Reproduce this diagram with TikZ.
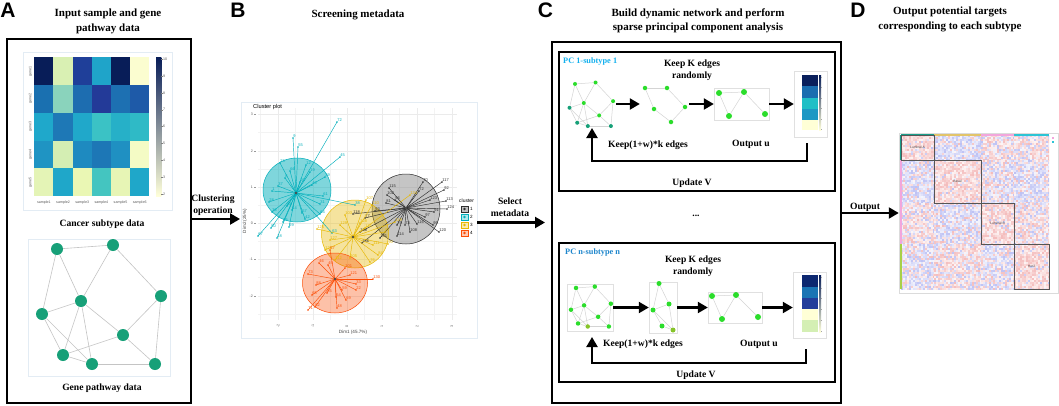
\documentclass[tikz,border=0pt]{standalone}
\usepackage{fontspec}
\setmainfont{Liberation Serif}
\setsansfont{Liberation Sans}
\usetikzlibrary{arrows.meta,calc}
\definecolor{nteal}{HTML}{17A078}
\definecolor{nbright}{HTML}{2BDD2B}
\definecolor{nyg}{HTML}{86C42A}
\definecolor{egray}{HTML}{C4C4C4}
\definecolor{elight}{HTML}{D4D4D4}
\definecolor{framebl}{HTML}{E3ECF4}
\definecolor{pcone}{HTML}{12B0EE}
\definecolor{pcn}{HTML}{1E86CC}
\definecolor{kcyan}{HTML}{00AFBB}
\definecolor{kyel}{HTML}{E7B800}
\definecolor{kora}{HTML}{FC4E07}
\definecolor{kgray}{HTML}{2E2E2E}
\definecolor{kgrayfill}{HTML}{8C8C8C}
\definecolor{ynavy}{HTML}{081D58}
\definecolor{ycyan}{HTML}{41B6C4}
\definecolor{ypale}{HTML}{FFFFD9}
\definecolor{mred}{HTML}{E04848}
\definecolor{mblue}{HTML}{4A55E0}
\definecolor{blkbox}{HTML}{555555}
\definecolor{gridc}{HTML}{EBEBEB}
\definecolor{stY}{HTML}{E2C46A}
\definecolor{stP}{HTML}{F2A6DC}
\definecolor{stC}{HTML}{2CC4D4}
\definecolor{stT}{HTML}{1A9E8A}
\definecolor{stG}{HTML}{A8D048}
\begin{document}
\begin{tikzpicture}[x=1pt,y=-1pt,
 title/.style={font=\fontsize{11}{14.5}\selectfont\bfseries, align=center, inner sep=0},
 sub/.style={font=\fontsize{9.6}{12}\selectfont\bfseries, align=center, inner sep=0},
 pclab/.style={font=\fontsize{8.3}{10}\selectfont\bfseries, inner sep=0, anchor=west},
 letter/.style={font=\fontsize{21}{21}\selectfont\sffamily\bfseries, inner sep=0},
 tiny/.style={font=\fontsize{3.6}{4}\selectfont\sffamily, inner sep=0, text=black!65},
 lab/.style={font=\fontsize{4}{4.5}\selectfont\sffamily, inner sep=0.2pt},
 bigbox/.style={draw, line width=2pt, inner sep=0},
 bigarrow/.style={line width=2.2pt, -{Triangle[length=10pt,width=11pt]}},
 nA/.style={circle, fill=nteal, inner sep=0, minimum size=12pt},
 nd/.style={circle, inner sep=0, minimum size=#1},
 edgeA/.style={draw=egray, line width=0.6pt},
 edgeC/.style={draw=elight, line width=0.5pt},
 netbox/.style={inner sep=0, draw=#1, line width=0.4pt},
 hbframe/.style={draw=black!12, line width=0.4pt, inner sep=0},
 mblock/.style={draw=blkbox, line width=0.8pt, inner sep=0, font=\fontsize{3.3}{4}\selectfont\sffamily, text=black!70}
]
\useasboundingbox (0,0) rectangle (1059,405);
\fill[white] (0,0) rectangle (1059,405);

% ---------------- letters and titles
\node[letter] (LA) at (8,10) {A};
\node[letter] (LB) at (238,10) {B};
\node[letter] (LC) at (545.5,10) {C};
\node[letter] (LD) at (858,10) {D};
\node[title] (tA) at (108,21.5) {Input sample and gene\\pathway data};
\node[title] (tB) at (358,15) {Screening metadata};
\node[title] (tC) at (698,21) {Build dynamic network and perform\\sparse principal component analysis};
\node[title] (tD) at (950,19.5) {Output potential targets\\corresponding to each subtype};

% ---------------- Panel A
\node[bigbox, minimum width=184, minimum height=364] (boxA) at (99,221) {};
\draw[framebl, line width=0.6pt] (23,52) rectangle (172,210);
\foreach \c [count=\k from 0] in {081D58,D9F0B3,1F3F99,1FA4C9,081D58,FBFDD0,
 1A70B0,8AD3BC,1D6DB0,233A98,1D70B2,1E5AA8,
 1FA8CB,1E78B6,20A8CA,3BC2C5,26B0C8,2FBAC6,
 1F94C3,D4EEB3,1E8AC0,1D77B6,1F90C2,F4FBC5,
 E4F4B6,1FA7C9,EAF7B4,44C5C0,E7F5B5,1FA7C9}{
  \definecolor{tmpc}{HTML}{\c}
  \pgfmathtruncatemacro\cc{mod(\k,6)}
  \pgfmathtruncatemacro\rr{int(\k/6)}
  \fill[tmpc] (34.3+19.17*\cc,57.3+27.75*\rr) rectangle ++(19.3,27.9);
}
\shade[top color=ynavy, middle color=ycyan, bottom color=ypale] (156,57.3) rectangle (161.3,196);
\foreach \v [count=\k from 0] in {10,9,8,7,6,5,4,3,2}{
  \draw[black!50, line width=0.3pt] (161.3,59+16.9*\k) -- (162.5,59+16.9*\k);
  \node[tiny, anchor=west] at (163,59+16.9*\k) {\v};
}
\foreach \k in {1,...,5}{\node[tiny, rotate=90] at (30.5,43.4+27.75*\k) {gene\k};}
\foreach \k in {1,...,6}{\node[tiny] at (34.3+19.17*\k-9.6,202.5) {sample\k};}
\node[sub] (cst) at (102,224) {Cancer subtype data};

\draw[framebl, line width=0.6pt] (28,239) rectangle (170,376);
\begin{scope}[shift={(28,239)}]
\node[nA] (a1) at (29,10) {};
\node[nA] (a2) at (85,6) {};
\node[nA] (a3) at (133,57) {};
\node[nA] (a4) at (53,62) {};
\node[nA] (a5) at (14,75) {};
\node[nA] (a6) at (95,96) {};
\node[nA] (a7) at (35,116) {};
\node[nA] (a8) at (64,125) {};
\node[nA] (a9) at (127,125) {};
\end{scope}
\foreach \u/\v in {1/2,1/4,1/5,2/4,2/3,3/6,3/9,4/5,4/6,4/7,4/8,5/7,5/8,6/7,6/9,7/8,8/9}
  \draw[edgeA] (a\u) -- (a\v);
\node[sub] (gpd) at (102,388) {Gene pathway data};

% arrow A -> B
\coordinate (bin) at (240,219);
\draw[bigarrow] (boxA.east |- bin) -- (bin);
\node[sub] (clu) at (213,205) {Clustering\\operation};

% ---------------- Panel B: cluster plot
\node[draw=framebl, line width=0.6pt, minimum width=236, minimum height=236, inner sep=0] (bplot) at (359,220) {};
\foreach \x in {260.5,295.5,330,364.5,399.5,434.5}{\draw[gridc!60, line width=0.3pt] (\x,108) -- (\x,320);}
\foreach \y in {132.5,169,205,241,277.5,314}{\draw[gridc!60, line width=0.3pt] (258,\y) -- (457,\y);}
\foreach \x in {278,313,347,382,417,452}{\draw[gridc, line width=0.5pt] (\x,108) -- (\x,320);}
\foreach \y in {114,151,187,223,259,296}{\draw[gridc, line width=0.5pt] (258,\y) -- (457,\y);}
\foreach \y/\l in {114/3,151/2,187/1,223/0,259/-1,296/-2}{
  \node[tiny, anchor=east] at (253,\y) {\l};
  \draw[black!40, line width=0.3pt] (254,\y) -- (256,\y);}
\foreach \x/\l in {278/-2,313/-1,347/0,382/1,417/2,452/3}{
  \node[tiny, rotate=90] at (\x,326) {\l};}
\node[font=\fontsize{5.7}{6}\selectfont\sffamily, anchor=west, inner sep=0] (cpt) at (253,107) {Cluster plot};
\node[font=\fontsize{4.6}{5}\selectfont\sffamily, inner sep=0, text=black!75] (xlab) at (353,332.5) {Dim1 (45.7\%)};
\node[font=\fontsize{4.6}{5}\selectfont\sffamily, inner sep=0, text=black!75, rotate=90] (ylab) at (245,221) {Dim2 (25\%)};

\fill[kcyan, opacity=0.5] (297,190) ellipse (34 and 32);
\draw[kcyan, line width=0.5pt] (297,190) ellipse (34 and 32);
\fill[kgrayfill, opacity=0.5] (406,209) ellipse (34 and 35);
\draw[kgray, line width=0.5pt] (406,209) ellipse (34 and 35);
\fill[kyel, opacity=0.38] (355,234) ellipse (33.5 and 34);
\draw[kyel, line width=0.5pt] (355,234) ellipse (33.5 and 34);
\fill[kora, opacity=0.35] (335,283) ellipse (32.5 and 30);
\draw[kora, line width=0.5pt] (335,283) ellipse (32.5 and 30);

\coordinate (k2) at (296,193);
\coordinate (k1) at (406,208);
\coordinate (k3) at (353,237);
\coordinate (k4) at (335,279);
\foreach \x/\y/\l in {337/122/72,293/138/9,298/147/55,340/157/45,272/191/1,278/186/37,269/202/28,272/212/36,271/228/50,258/236/67,277/238/18,305/219/42,302/213/57,320/214/64,320/204/31,323/196/61,325/177/39,290/171/66,280/163/23,289/227/29,287/206/58,355/205/38,332/233/63,306/165/12,285/178/8,312/185/40,292/210/14,283/222/25,300/182/20,310/172/19}{
  \draw[kcyan, line width=0.45pt] (k2) -- (\x,\y);
  \fill[kcyan] (\x,\y) circle (0.9);
  \node[lab, text=kcyan, anchor=south west] at (\x,\y) {\l};}
\foreach \x/\y/\l in {442/182/117,444/190/92,446/201/113,447/209/124,439/232/120,397/236/114,410/232/108,417/224/116,397/225/79,405/225/73,389/188/115,387/195/102,386/203/81,353/214/118,365/218/77,375/211/93,423/182/70,419/191/72,434/212/91,425/217/97,433/225/99,395/200/96,430/200/123,360/232/138,362/243/136,380/238/131}{
  \draw[kgray, line width=0.45pt] (k1) -- (\x,\y);
  \fill[kgray] (\x,\y) circle (0.9);
  \node[lab, text=kgray, anchor=south west] at (\x,\y) {\l};}
\foreach \x/\y/\l in {366/200/107,317/229/125,373/245/111,325/250/126,340/225/129,385/232/87,388/244/90,378/255/84,370/262/76,335/260/112,345/215/103,360/223/128,330/240/127,350/258/105,395/222/119,365/228/121,372/205/110,410/195/134}{
  \draw[kyel, line width=0.45pt] (k3) -- (\x,\y);
  \fill[kyel] (\x,\y) circle (0.9);
  \node[lab, text=kyel, anchor=south west] at (\x,\y) {\l};}
\foreach \x/\y/\l in {373/279/130,356/284/33,308/310/71,315/307/82,337/308/48,346/300/69,336/297/54,327/293/85,308/274/73,316/285/88,319/263/46,345/268/101,350/275/121,328/265/49,312/295/65,356/290/22,342/290/59,330/250/57}{
  \draw[kora, line width=0.45pt] (k4) -- (\x,\y);
  \fill[kora] (\x,\y) circle (0.9);
  \node[lab, text=kora, anchor=south west] at (\x,\y) {\l};}
\foreach \k in {k1,k2,k3,k4}{\fill[black!70] (\k) circle (1.4);}

\node[font=\fontsize{5}{6}\selectfont\sffamily, anchor=west, inner sep=0] (cleg) at (459,201) {cluster};
\foreach \c/\y/\l in {kgray/209/1,kcyan/217/2,kyel/225/3,kora/233/4}{
  \draw[\c, fill=\c!30, line width=0.4pt] (461,\y-3) rectangle (468,\y+3);
  \fill[\c] (464.5,\y) circle (1.3);
  \node[font=\fontsize{4.6}{5}\selectfont\sffamily, anchor=west, inner sep=0] at (470,\y) {\l};}

% ---------------- Panel C
\node[bigbox, minimum width=289, minimum height=361] (boxC) at (696.5,222.5) {};
\draw[bigarrow, shorten >=6pt] (bplot.east |- boxC.west) -- (boxC.west);
\node[sub] (sel) at (510,207.5) {Select\\metadata};

\node[bigbox, minimum width=276, minimum height=139] (in1) at (697,121.5) {};
\node[bigbox, minimum width=276, minimum height=139] (in2) at (697,312.5) {};

\node[pclab, text=pcone] (pc1) at (563,62) {PC 1-subtype 1};
\node[pclab, text=pcn] (pcn) at (565,253) {PC n-subtype n};
\node[sub] (kk1) at (692,70.5) {Keep K edges\\randomly};
\node[sub] (kk2) at (693,266) {Keep K edges\\randomly};
\node[sub] (kw1) at (648,145) {Keep(1+w)*k edges};
\node[sub] (kw2) at (643,344) {Keep(1+w)*k edges};
\node[sub] (ou1) at (751,144) {Output u};
\node[sub] (ou2) at (759,344) {Output u};
\node[sub] (uv1) at (692,183) {Update V};
\node[sub] (uv2) at (696,375) {Update V};
\node[sub] (dots) at (696,216) {...};

% top row networks
\node[netbox=none, minimum width=49, minimum height=50] (t1) at (591.5,104) {};
\begin{scope}[shift={(564.4,80.3)}, scale=0.366]
\node[nd=4pt, fill=nbright] (p1) at (29,10) {};
\node[nd=4pt, fill=nbright] (p2) at (85,6) {};
\node[nd=4pt, fill=nbright] (p3) at (133,57) {};
\node[nd=4pt, fill=nbright] (p4) at (53,62) {};
\node[nd=4pt, fill=nteal] (p5) at (14,75) {};
\node[nd=4pt, fill=nbright] (p6) at (95,96) {};
\node[nd=4pt, fill=nteal] (p7) at (35,116) {};
\node[nd=4pt, fill=nteal] (p8) at (64,125) {};
\node[nd=4pt, fill=nteal] (p9) at (127,125) {};
\end{scope}
\foreach \u/\v in {1/2,1/4,1/5,2/4,2/3,3/6,3/9,4/5,4/6,4/7,4/8,5/7,5/8,6/7,6/9,7/8,8/9}
  \draw[edgeC] (p\u) -- (p\v);

\node[netbox=none, minimum width=49, minimum height=44] (t2) at (664.5,104) {};
\node[nd=4.5pt, fill=nbright] (q1) at (645,88) {};
\node[nd=4.5pt, fill=nbright] (q2) at (667,88) {};
\node[nd=4.5pt, fill=nbright] (q3) at (654,109) {};
\node[nd=4.5pt, fill=nbright] (q4) at (685,107) {};
\node[nd=4.5pt, fill=nbright] (q5) at (671,122) {};
\foreach \u/\v in {1/2,1/3,2/4,3/5,4/5} \draw[edgeC] (q\u) -- (q\v);

\node[netbox=black!12, minimum width=55, minimum height=32] (t3) at (741.5,104) {};
\node[nd=6pt, fill=nbright] (r1) at (719,93) {};
\node[nd=6pt, fill=nbright] (r2) at (744,92) {};
\node[nd=6pt, fill=nbright] (r3) at (729,116) {};
\node[nd=6pt, fill=nbright] (r4) at (765,114) {};
\foreach \u/\v in {1/2,1/3,3/2,2/4} \draw[edgeC] (r\u) -- (r\v);

\node[hbframe, minimum width=33, minimum height=66] (hb1) at (810.5,104) {};
\foreach \c/\ya/\yb in {0A1F5C/75/86,1A6DB0/86/98,1FBFC6/98/109,1D98C4/109/120,FFFFD6/120/130}{
  \definecolor{tmpc}{HTML}{\c}\fill[tmpc] (802,\ya) rectangle (818,\yb);}
\shade[top color=ynavy, middle color=ycyan, bottom color=ypale] (819,75) rectangle (821,130);
\foreach \k in {0,...,5}{\draw[black!35, line width=0.25pt] (821,77+10.5*\k) -- (822.3,77+10.5*\k);}

\draw[bigarrow] (t1.east) -- (t2.west);
\draw[bigarrow] (t2.east) -- (t3.west);
\draw[bigarrow] (t3.east) -- (hb1.west);
\coordinate (l1a) at (807,143);
\coordinate (l1b) at (592,128);
\draw[bigarrow] (l1a) -- ++(0,18) -| (l1b);

% bottom row networks
\node[netbox=black!12, minimum width=46, minimum height=47] (b1) at (590,307.5) {};
\begin{scope}[shift={(566.3,284.6)}, scale=0.335]
\node[nd=4.5pt, fill=nbright] (s1) at (29,10) {};
\node[nd=4.5pt, fill=nbright] (s2) at (85,6) {};
\node[nd=4.5pt, fill=nbright] (s3) at (133,57) {};
\node[nd=4.5pt, fill=nbright] (s4) at (53,62) {};
\node[nd=4.5pt, fill=nbright] (s5) at (14,75) {};
\node[nd=4.5pt, fill=nbright] (s6) at (95,96) {};
\node[nd=4.5pt, fill=nbright] (s7) at (35,116) {};
\node[nd=4.5pt, fill=nyg] (s8) at (64,125) {};
\node[nd=4.5pt, fill=nbright] (s9) at (127,125) {};
\end{scope}
\foreach \u/\v in {1/2,1/4,1/5,2/4,2/3,3/6,3/9,4/5,4/6,4/7,4/8,5/7,5/8,6/7,6/9,7/8,8/9}
  \draw[edgeC] (s\u) -- (s\v);

\node[netbox=black!12, minimum width=28, minimum height=51] (b2) at (663,307.5) {};
\node[nd=5pt, fill=nbright] (u1) at (659,283.5) {};
\node[nd=5pt, fill=nbright] (u2) at (669,304) {};
\node[nd=5pt, fill=nbright] (u3) at (653,310) {};
\node[nd=5pt, fill=nbright] (u4) at (662,326) {};
\node[nd=5pt, fill=nyg] (u5) at (673,330) {};
\foreach \u/\v in {1/2,1/3,2/3,3/4,3/5,2/5,4/5} \draw[edgeC] (u\u) -- (u\v);

\node[netbox=black!12, minimum width=54, minimum height=31] (b3) at (735,307.5) {};
\node[nd=6pt, fill=nbright] (w1) at (712,296) {};
\node[nd=6pt, fill=nbright] (w2) at (736,295) {};
\node[nd=6pt, fill=nbright] (w3) at (722,319) {};
\node[nd=6pt, fill=nbright] (w4) at (758,317) {};
\foreach \u/\v in {1/2,1/3,3/2,2/4} \draw[edgeC] (w\u) -- (w\v);

\node[hbframe, minimum width=33, minimum height=66] (hb2) at (809.5,305.5) {};
\foreach \c/\ya/\yb in {0C2770/275/287,1A74B4/287/298,233E9A/298/309,FFFFD6/309/320,D4EFB4/320/332}{
  \definecolor{tmpc}{HTML}{\c}\fill[tmpc] (802,\ya) rectangle (818,\yb);}
\shade[top color=ynavy, middle color=ycyan, bottom color=ypale] (819,275) rectangle (821,332);
\foreach \k in {0,...,5}{\draw[black!35, line width=0.25pt] (821,277+10.8*\k) -- (822.3,277+10.8*\k);}

\draw[bigarrow] (b1.east) -- (b2.west);
\draw[bigarrow] (b2.east) -- (b3.west);
\draw[bigarrow] (b3.east) -- (b3.east -| hb2.west);
\coordinate (l2a) at (806,349);
\coordinate (l2b) at (592,337);
\draw[bigarrow] (l2a) -- ++(0,14) -| (l2b);

% ---------------- Panel D
\node[draw=black!14, line width=0.5pt, minimum width=159, minimum height=160, inner sep=0] (dmat) at (978.5,213) {};
\pgfmathsetseed{12}
\foreach \xa/\xb/\ya/\yb/\p in {
901/934/135/160/88, 934/981/135/160/22, 981/1014/135/160/60, 1014/1049/135/160/60,
901/934/160/203/25, 934/981/160/203/88, 981/1014/160/203/50, 1014/1049/160/203/30,
901/934/203/244/68, 934/981/203/244/28, 981/1014/203/244/88, 1014/1049/203/244/62,
901/934/244/289/30, 934/981/244/289/66, 981/1014/244/289/40, 1014/1049/244/289/88}{
  \begin{scope}
  \clip (\xa,\ya) rectangle (\xb,\yb);
  \pgfmathtruncatemacro\xn{\xa+2}
  \pgfmathtruncatemacro\yn{\ya+2}
  \foreach \cx in {\xa,\xn,...,\xb}{
    \foreach \cy in {\ya,\yn,...,\yb}{
      \pgfmathrandominteger{\rr}{0}{99}
      \pgfmathrandominteger{\ii}{6}{36}
      \ifnum\rr<\p\relax\def\cc{mred}\else\def\cc{mblue}\fi
      \fill[\cc!\ii!white] (\cx,\cy) rectangle ++(2.05,2.05);
    }}
  \end{scope}
}
\fill[stT] (901,134) rectangle (934,136);
\fill[stY] (934,134) rectangle (981,136);
\fill[stP] (981,134) rectangle (1014,136);
\fill[stC] (1014,134) rectangle (1049,136);
\fill[stT] (900,135) rectangle (901.5,160);
\fill[stP] (900,160) rectangle (901.5,244);
\fill[stG] (900,244) rectangle (901.5,289);
\fill[stP] (1052,137) rectangle (1054,139);
\fill[stC] (1052,141) rectangle (1054,143);
\node[mblock, minimum width=33, minimum height=25] (lumA) at (917.5,147.5) {Luminal A};
\node[mblock, minimum width=47, minimum height=43] (basal) at (957.5,181.5) {Basal};
\node[mblock, minimum width=33, minimum height=41] (lumB) at (997.5,223.5) {Luminal B};
\node[mblock, minimum width=35, minimum height=45] (her2) at (1031.5,266.5) {Her2};

\draw[bigarrow] (boxC.east |- dmat.west) -- (dmat.west);
\node[sub] (outl) at (865,207) {Output};
\end{tikzpicture}
\end{document}
